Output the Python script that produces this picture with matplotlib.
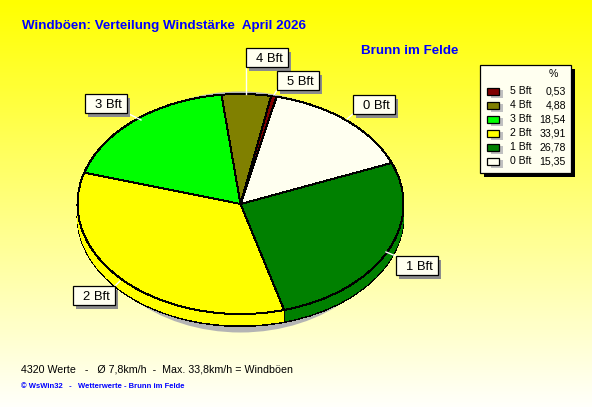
import numpy as np
import matplotlib
matplotlib.use("Agg")
import matplotlib.pyplot as plt
from matplotlib.patches import Wedge, Rectangle, Ellipse
from matplotlib.transforms import Affine2D
from matplotlib.colors import LinearSegmentedColormap

plt.rcParams['font.family'] = ['Liberation Sans', 'DejaVu Sans']

# data, clockwise order on the pie
pie_labels = ['0 Bft', '1 Bft', '2 Bft', '3 Bft', '4 Bft', '5 Bft']
pie_values = [15.35, 26.78, 33.91, 18.54, 4.88, 0.53]
pie_colors = ['#fffff0', '#008000', '#ffff00', '#00ff00', '#808000', '#800000']
# legend order
legend_labels = ['5 Bft', '4 Bft', '3 Bft', '2 Bft', '1 Bft', '0 Bft']
legend_values = ['0,53', '4,88', '18,54', '33,91', '26,78', '15,35']
legend_colors = ['#800000', '#808000', '#00ff00', '#ffff00', '#008000', '#fffff0']

title = 'Windböen: Verteilung Windstärke  April 2026'
station = 'Brunn im Felde'
footer = '4320 Werte   -   Ø 7,8km/h  -  Max. 33,8km/h = Windböen'
credit = '© WsWin32   -   Wetterwerte - Brunn im Felde'

W, H = 592, 407
CX, CY, RX, RY, DEPTH = 240.5, 204, 163, 110, 12
START = 12.8
BLUE = '#0000ff'
IVORY = '#fffff0'

fig = plt.figure(figsize=(W / 100, H / 100), dpi=100)
ax = fig.add_axes([0, 0, 1, 1])
ax.set_xlim(0, W)
ax.set_ylim(H, 0)
ax.axis('off')

cmap = LinearSegmentedColormap.from_list('bg', ['#ffff00', '#fffffa'])
ax.imshow(np.linspace(0, 1, H).reshape(-1, 1), extent=(0, W, H, 0), cmap=cmap,
          aspect='auto', zorder=0)

# shadow of the pie
ax.add_patch(Ellipse((CX, 212), 310, 241, fc='#b4b4b4', ec='none', zorder=1))


def tr(off):
    return Affine2D().scale(RX, -RY).translate(CX, CY + off) + ax.transData


angles = START + np.concatenate([[0], np.cumsum(pie_values)]) * 3.6


def draw_layer(off, edge, z):
    for i, col in enumerate(pie_colors):
        w = Wedge((0, 0), 1, 90 - angles[i + 1], 90 - angles[i], fc=col,
                  ec='black' if edge else 'none', lw=0.7 if edge else 0,
                  transform=tr(off), zorder=z, antialiased=False)
        ax.add_patch(w)


draw_layer(DEPTH, True, 2)
for o in range(DEPTH - 1, 0, -1):
    draw_layer(o, False, 3)
draw_layer(0, True, 4)

# vertical rim edge between slices on the visible front
for a in angles[1:-1]:
    if np.cos(np.radians(a)) < 0:
        x = CX + RX * np.sin(np.radians(a))
        y = CY - RY * np.cos(np.radians(a))
        ax.plot([x, x], [y, y + DEPTH], color='black', lw=0.7, zorder=3.5)

# callouts: box left/top, leader end points
boxes = {'3 Bft': (85, 94), '4 Bft': (246, 48), '5 Bft': (277, 71),
         '0 Bft': (353, 95), '1 Bft': (396, 256), '2 Bft': (73, 286)}
leaders = {'3 Bft': ((127, 113), (141, 120)), '4 Bft': ((246, 67), (246, 94)),
           '5 Bft': ((277, 90), (274, 95)), '0 Bft': ((353, 114), (347, 119)),
           '1 Bft': ((396, 256), (386, 252)), '2 Bft': ((115, 286), (120, 281))}
BW, BH = 42, 19
for lab in pie_labels:
    x, y = boxes[lab]
    (x0, y0), (x1, y1) = leaders[lab]
    ax.plot([x0, x1], [y0, y1], color='white', lw=1, zorder=5)
    ax.add_patch(Rectangle((x + 3, y + 4), BW, BH, fc='#8c8c8c', ec='none', zorder=6))
    ax.add_patch(Rectangle((x, y), BW, BH, fc=IVORY, ec='black', lw=0.9, zorder=7))
    ax.text(x + BW / 2 + 2, y + BH / 2, lab, ha='center', va='center_baseline',
            fontsize=9.4, color='black', zorder=8)

# titles
ax.text(22, 26.5, title, fontsize=9.65, fontweight='bold', color=BLUE, va='center', zorder=8)
ax.text(361, 51.5, station, fontsize=9.6, fontweight='bold', color=BLUE, va='center', zorder=8)
ax.text(21, 369, footer, fontsize=7.67, color='black', va='center', zorder=8)
ax.text(21, 386, credit, fontsize=5.5, fontweight='bold', color=BLUE, va='center', zorder=8)

# legend
ax.add_patch(Rectangle((484, 69), 91, 108, fc='black', ec='none', zorder=6))
ax.add_patch(Rectangle((480, 65), 91, 108, fc=IVORY, ec='black', lw=0.9, zorder=7))
ax.text(553, 74, '%', ha='center', va='center', fontsize=7.6, color='black', zorder=8)
for i, (lab, val, col) in enumerate(zip(legend_labels, legend_values, legend_colors)):
    y = 91 + 14 * i
    ax.add_patch(Rectangle((491, y - 1), 12, 8, fc='#c0c0c0', ec='none', zorder=7.5))
    ax.add_patch(Rectangle((487, y - 3.5), 12, 7, fc=col, ec='black', lw=0.9, zorder=8))
    ax.text(510, y, lab, ha='left', va='center', fontsize=7.6, color='black', zorder=8)
    ax.text(566, y, val, ha='right', va='center', fontsize=7.6, color='black', zorder=8)

fig.savefig('out.png', dpi=100)
